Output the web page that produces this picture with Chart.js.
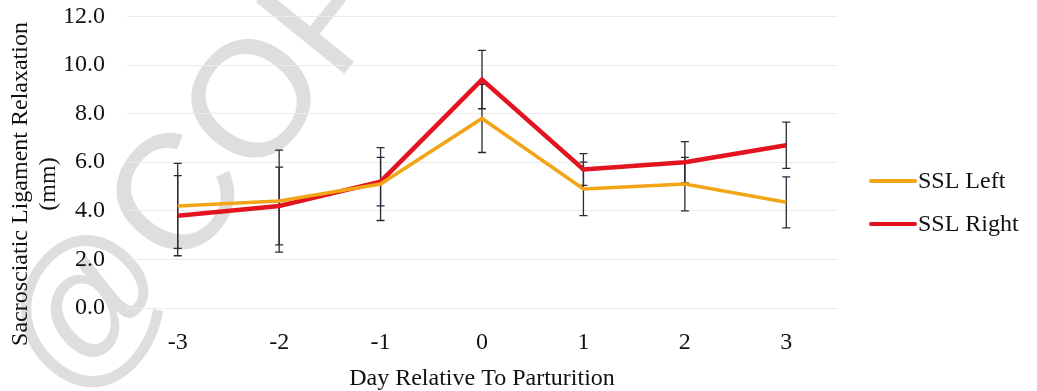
<!DOCTYPE html>
<html>
<head>
<meta charset="utf-8">
<script src="https://cdn.jsdelivr.net/npm/chart.js@4.4.1/dist/chart.umd.min.js"></script>
<style>
  html, body { margin: 0; padding: 0; background: #fff; }
  #wrap { width: 1037px; height: 391px; }
</style>
</head>
<body>
<div id="wrap"><canvas id="myChart" width="1037" height="391"></canvas></div>
<script>
    var days = ['-3', '-2', '-1', '0', '1', '2', '3'];
    var sslLeft = [4.2, 4.4, 5.1, 7.8, 4.9, 5.1, 4.35];
    var sslRight = [3.8, 4.2, 5.2, 9.4, 5.7, 6.0, 6.7];
    // standard error, drawn as +/- bars around each mean
    var sslLeftErr = [1.75, 2.1, 1.5, 1.4, 1.1, 1.1, 1.05];
    var sslRightErr = [1.65, 1.6, 1.0, 1.2, 0.65, 0.85, 0.95];

    var serif = '"Liberation Serif", "Times New Roman", serif';

    // faint copyright mark behind the plot
    const watermark = {
        id: 'watermark',
        beforeDraw(chart) {
            const c = chart.ctx;
            c.save();
            c.translate(92, 313);
            c.rotate(-51 * Math.PI / 180);
            c.font = '165px "Liberation Sans", Arial, sans-serif';
            c.fillStyle = '#dedede';
            c.textBaseline = 'middle';
            c.textAlign = 'left';
            const w = c.measureText('@').width;
            c.fillText('@COPYRIGHT', -w / 2, 0);
            c.restore();
        }
    };

    // vertical error bars with caps, placed through the chart scales
    const errorBars = {
        id: 'errorBars',
        beforeDatasetsDraw(chart) {
            const c = chart.ctx;
            const xs = chart.scales.x, ys = chart.scales.y;
            c.save();
            c.strokeStyle = '#2b2838';
            c.lineWidth = 1.3;
            chart.data.datasets.forEach(function (ds) {
                ds.errors.forEach(function (e, i) {
                    const x = xs.getPixelForValue(i);
                    const top = ys.getPixelForValue(ds.data[i] + e);
                    const bot = ys.getPixelForValue(ds.data[i] - e);
                    c.beginPath();
                    c.moveTo(x, top); c.lineTo(x, bot);
                    c.moveTo(x - 4, top); c.lineTo(x + 4, top);
                    c.moveTo(x - 4, bot); c.lineTo(x + 4, bot);
                    c.stroke();
                });
            });
            c.restore();
        }
    };

    // y title and legend on the right
    const labels = {
        id: 'labels',
        afterDraw(chart) {
            const c = chart.ctx;
            c.save();
            c.fillStyle = '#111';
            c.font = '24px ' + serif;
            c.textBaseline = 'middle';
            c.textAlign = 'center';
            c.save();
            c.translate(21, 184);
            c.rotate(-Math.PI / 2);
            c.fillText('Sacrosciatic Ligament Relaxation', 0, 0);
            c.fillText('(mm)', 0, 28);
            c.restore();

            c.textAlign = 'left';
            chart.data.datasets.forEach(function (ds, k) {
                const y = 181 + k * 43;
                c.strokeStyle = ds.borderColor;
                c.lineWidth = 4;
                c.lineCap = 'round';
                c.beginPath();
                c.moveTo(871, y); c.lineTo(915, y);
                c.stroke();
                c.fillText(ds.label, 918, y + 1);
            });
            c.restore();
        }
    };

    const ctx = document.getElementById('myChart').getContext('2d');
    const myChart = new Chart(ctx, {
        type: 'line',
        data: {
            labels: days,
            datasets: [{
                    label: 'SSL Left',
                    data: sslLeft,
                    errors: sslLeftErr,
                    borderColor: '#f2a516',
                    borderWidth: 3.5,
                    pointRadius: 0,
                    tension: 0
                }, {
                    label: 'SSL Right',
                    data: sslRight,
                    errors: sslRightErr,
                    borderColor: '#e3141f',
                    borderWidth: 4.5,
                    pointRadius: 0,
                    tension: 0
                }]
        },
        options: {
            responsive: false,
            animation: false,
            layout: { padding: { top: 15, right: 200, left: 0, bottom: 0 } },
            plugins: {
                legend: { display: false },
                tooltip: { enabled: false }
            },
            scales: {
                x: {
                    offset: true,
                    grid: { display: false, drawTicks: false },
                    border: { display: false },
                    ticks: { padding: 20, color: '#111', font: { family: serif, size: 24 } },
                    title: {
                        display: true,
                        text: 'Day Relative To Parturition',
                        color: '#111',
                        font: { family: serif, size: 24 },
                        padding: { top: 0, bottom: -2 }
                    },
                    afterFit(scale) { scale.height = 83; }
                },
                y: {
                    min: 0,
                    max: 12,
                    grid: { color: '#ebebeb', drawTicks: true, tickLength: 20, tickColor: 'rgba(0,0,0,0)' },
                    border: { display: false },
                    ticks: {
                        stepSize: 2,
                        padding: 2,
                        color: '#111',
                        font: { family: serif, size: 24 },
                        callback: function (v) { return v.toFixed(1); }
                    },
                    afterFit(scale) { scale.width = 127; }
                }
            }
        },
        plugins: [watermark, errorBars, labels]
    });
</script>
</body>
</html>
